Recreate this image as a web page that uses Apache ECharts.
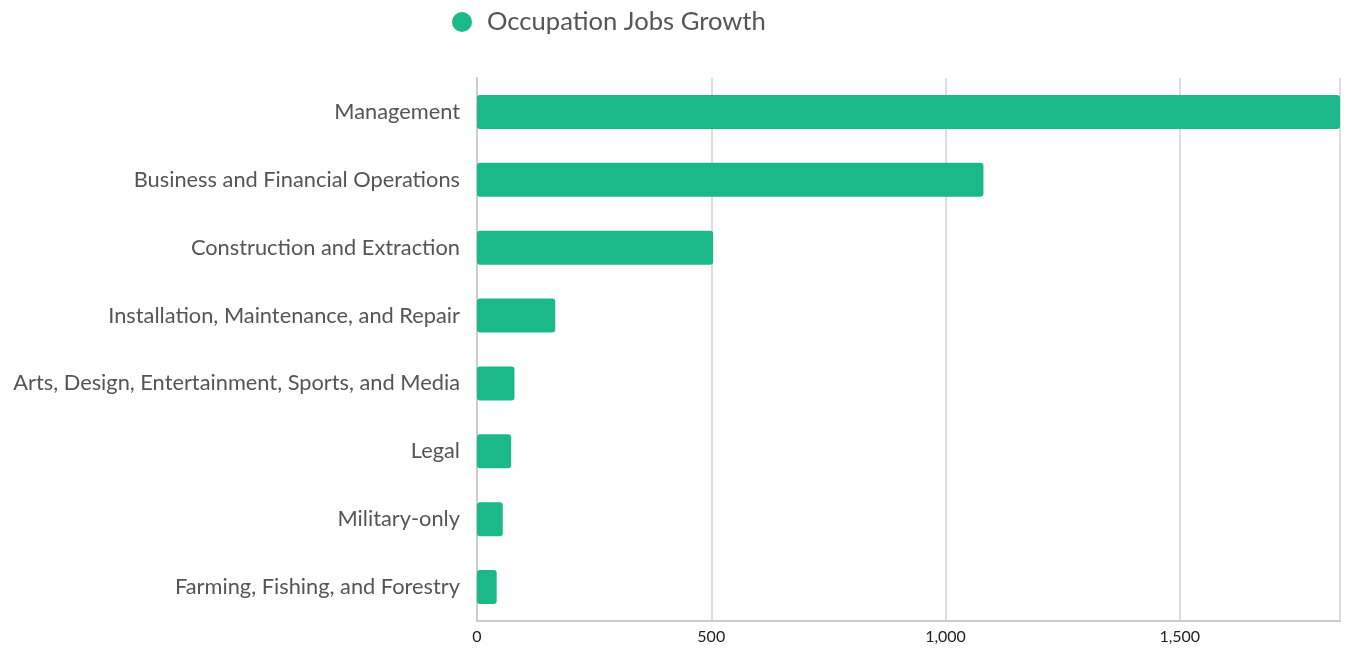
<!DOCTYPE html>
<html>
<head>
<meta charset="utf-8">
<script src="https://cdn.jsdelivr.net/npm/echarts@6/dist/echarts.min.js"></script>
<style>
  html, body { margin: 0; padding: 0; background: #fff; }
  #chart { width: 1354px; height: 648px; }
</style>
</head>
<body>
<div id="chart"></div>
<script>
const categories = [
  'Farming, Fishing, and Forestry',
  'Military-only',
  'Legal',
  'Arts, Design, Entertainment, Sports, and Media',
  'Installation, Maintenance, and Repair',
  'Construction and Extraction',
  'Business and Financial Operations',
  'Management'
];
const growth = [42, 55, 73, 80, 167, 504, 1081, 1842];
const seriesName = 'Occupation Jobs Growth';

const myChart = echarts.init(document.getElementById('chart'));

const option = {
  textStyle: { fontFamily: 'Lato' },
  legend: {
    top: 4,
    left: 447,
    icon: 'circle',
    itemWidth: 20,
    itemHeight: 20,
    textStyle: {
      fontSize: 25.6,
      color: '#555',
      fontFamily: 'Lato',
      padding: [0, 0, 0, 10]
    },
    data: [seriesName]
  },
  grid: {
    left: 477,
    right: 14,
    top: 78,
    bottom: 27
  },
  xAxis: {
    type: 'value',
    min: 0,
    max: 'dataMax',
    interval: 500,
    axisLine: { show: true, lineStyle: { color: '#ccc', width: 2 } },
    axisTick: { show: false },
    splitLine: { show: true, lineStyle: { color: '#ddd', width: 2 } },
    axisLabel: {
      fontSize: 16,
      color: '#222',
      fontFamily: 'Lato',
      margin: 8,
      showMaxLabel: false,
      formatter: v => v.toLocaleString('en-US')
    }
  },
  yAxis: {
    type: 'category',
    data: categories,
    axisLine: { show: true, lineStyle: { color: '#ccc', width: 2 } },
    axisTick: { show: false },
    axisLabel: { fontSize: 21.8, color: '#555', fontFamily: 'Lato', margin: 17 }
  },
  series: [
    {
      name: seriesName,
      type: 'bar',
      data: growth,
      barWidth: '50%',
      itemStyle: { color: '#1bb98a', borderRadius: 3 }
    }
  ]
};

myChart.setOption(option);
window.addEventListener('resize', myChart.resize);
</script>
</body>
</html>
